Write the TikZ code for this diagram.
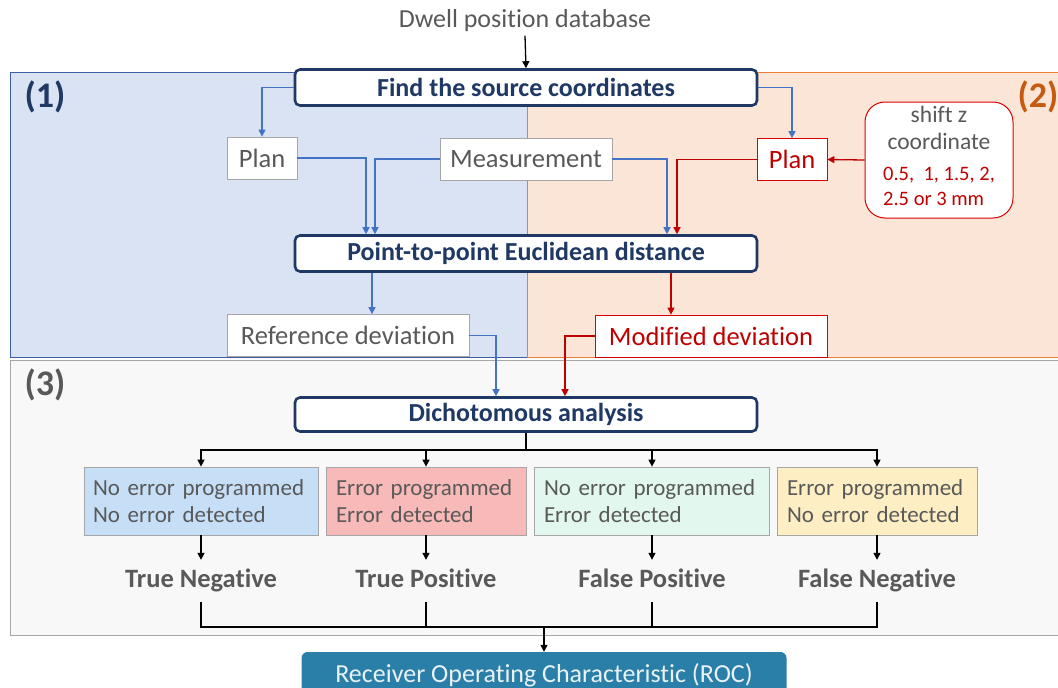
\documentclass[tikz,border=0pt]{standalone}
\usepackage{fontspec}
\setmainfont{Carlito}[Ligatures=NoCommon]
\usetikzlibrary{arrows.meta, positioning}

\definecolor{navy}{HTML}{1F3864}
\definecolor{txtgray}{HTML}{595959}
\definecolor{boxgray}{HTML}{A6A6A6}
\definecolor{arrblue}{HTML}{4472C4}
\definecolor{arrred}{HTML}{C00000}
\definecolor{zoneblue}{HTML}{DAE3F3}
\definecolor{zoneblueline}{HTML}{3C5FA8}
\definecolor{zoneorange}{HTML}{FBE5D6}
\definecolor{zoneorangeline}{HTML}{ED7D31}
\definecolor{labelorange}{HTML}{C55A11}
\definecolor{zonegray}{HTML}{F8F8F8}
\definecolor{fillnn}{HTML}{C6DFF7}
\definecolor{fillee}{HTML}{F8B9B9}
\definecolor{fillne}{HTML}{E2F8EE}
\definecolor{fillen}{HTML}{FDEEC4}
\definecolor{rocblue}{HTML}{2A7FA8}

\begin{document}
\begin{tikzpicture}[x=1pt, y=-1pt,
  stagebox/.style={draw=navy, line width=2.6pt, rounded corners=5pt, fill=white,
    text=navy, font=\fontsize{26}{30}\selectfont\bfseries,
    minimum width=462, minimum height=36, inner sep=0pt},
  greybox/.style={draw=boxgray, fill=white, text=txtgray, line width=0.8pt,
    font=\fontsize{26.5}{30}\selectfont, minimum height=42, inner sep=0pt},
  redbox/.style={greybox, draw=red!85!black, text=arrred},
  casebox/.style={draw=boxgray, line width=0.8pt, text=txtgray, align=left,
    font=\fontsize{23}{27}\selectfont, minimum height=68,
    inner sep=0pt, text width=#1},
  outcome/.style={text=txtgray, font=\fontsize{26.5}{30}\selectfont\bfseries,
    minimum height=42, text height=17, text depth=5, inner sep=0pt},
  zonelabel/.style={font=\fontsize{36}{40}\selectfont\bfseries},
  bluearr/.style={draw=arrblue, line width=1.3pt, -{Triangle[length=7pt, width=7pt]}},
  redarr/.style={draw=arrred, line width=1.3pt, -{Triangle[length=7pt, width=7pt]}},
  blackarr/.style={draw=black, line width=1.3pt, -{Triangle[length=7pt, width=7pt]}},
  blackline/.style={draw=black, line width=1.3pt}
  ]
  \useasboundingbox (0,0) rectangle (1058,688);

  % zones
  \draw[fill=zoneblue, draw=zoneblueline, line width=1pt] (10,72) rectangle (527,357);
  \draw[fill=zoneorange, draw=zoneorangeline, line width=1pt] (527,72) rectangle (1064,357);
  \draw[fill=zonegray, draw=boxgray, line width=1pt] (10,360) rectangle (1064,635);
  \node[zonelabel, text=navy] (zone1) at (45,97) {(1)};
  \node[zonelabel, text=labelorange] (zone2) at (1038,97) {(2)};
  \node[zonelabel, text=txtgray] (zone3) at (45,385) {(3)};

  % nodes
  \node[text=txtgray, font=\fontsize{26}{30}\selectfont] (dwell) at (525,21) {Dwell position database};
  \node[stagebox] (findsrc) at (526,87.5) {Find the source coordinates};
  \node[greybox, minimum width=70] (planref) at (262,158) {Plan};
  \node[greybox, minimum width=172] (measure) at (526,159) {Measurement};
  \node[redbox, minimum width=70] (planmod) at (792,159.5) {Plan};
  \node[draw=red!85!black, line width=1pt, rounded corners=20pt, fill=white, align=center,
    minimum width=148, minimum height=116, inner sep=0pt,
    text=txtgray, font=\fontsize{23.5}{27}\selectfont] (shiftz) at (939,160)
    {shift z\\coordinate\\[4pt]
     {\color{arrred}\fontsize{20.5}{25}\selectfont
      \begin{tabular}[t]{@{}l@{}}0.5,\ \ 1, 1.5, 2,\\2.5 or 3 mm\end{tabular}}};
  \node[stagebox] (dist) at (526,253.5) {Point-to-point Euclidean distance};
  \node[greybox, minimum width=242] (refdev) at (348,335.5) {Reference deviation};
  \node[redbox, minimum width=232] (moddev) at (711,336) {Modified deviation};
  \node[stagebox, minimum height=34] (dicho) at (526,414.5) {Dichotomous analysis};

  \node[casebox=216, fill=fillnn, minimum width=234] (nn) at (201,501)
    {No error programmed\\No error detected};
  \node[casebox=180, fill=fillee, minimum width=200] (ee) at (426,501)
    {Error programmed\\Error detected};
  \node[casebox=216, fill=fillne, minimum width=235] (ne) at (652,501)
    {No error programmed\\Error detected};
  \node[casebox=180, fill=fillen, minimum width=200] (en) at (877,501)
    {Error programmed\\No error detected};

  \node[outcome] (tn) at (201,581) {True Negative};
  \node[outcome] (tp) at (426,581) {True Positive};
  \node[outcome] (fp) at (652,581) {False Positive};
  \node[outcome] (fn) at (877,581) {False Negative};

  \node[fill=rocblue, rounded corners=6pt, minimum width=485, minimum height=46,
    inner sep=0pt, text=white!90!rocblue, font=\fontsize{26}{30}\selectfont] (roc) at (544,675)
    {Receiver Operating Characteristic (ROC)};

  \coordinate (split) at (526,450);
  \coordinate (join) at (544,627);

  % connectors
  \draw[blackarr] (dwell.south) -- (findsrc.north);
  \draw[bluearr] (findsrc.west) -| (planref.north);
  \draw[bluearr] (findsrc.east) -| (planmod.north);
  \draw[bluearr] (planref.east) -| ([xshift=-160pt]dist.north);
  \draw[bluearr] (measure.west) -| ([xshift=-151pt]dist.north);
  \draw[bluearr] (measure.east) -| ([xshift=141pt]dist.north);
  \draw[redarr] (planmod.west) -| ([xshift=151pt]dist.north);
  \draw[redarr] (shiftz.west) -- (planmod.east);
  \draw[bluearr] ([xshift=-154pt]dist.south) -- ([xshift=-154pt]dist.south |- refdev.north);
  \draw[redarr] ([xshift=145pt]dist.south) -- ([xshift=145pt]dist.south |- moddev.north);
  \draw[bluearr] (refdev.east) -| ([xshift=-30pt]dicho.north);
  \draw[redarr] (moddev.west) -| ([xshift=39pt]dicho.north);

  \foreach \c in {nn, ee, ne, en}
    \draw[blackarr] (dicho.south) |- (split) -| (\c.north);
  \foreach \c/\o in {nn/tn, ee/tp, ne/fp, en/fn}
    \draw[blackarr] (\c.south) -- (\o.north);

  \draw[blackline] (tn.south) |- (join) -| (fn.south);
  \draw[blackline] (tp.south) -- (tp.south |- join);
  \draw[blackline] (fp.south) -- (fp.south |- join);
  \draw[blackarr] (join) -- (roc.north);
\end{tikzpicture}
\end{document}
